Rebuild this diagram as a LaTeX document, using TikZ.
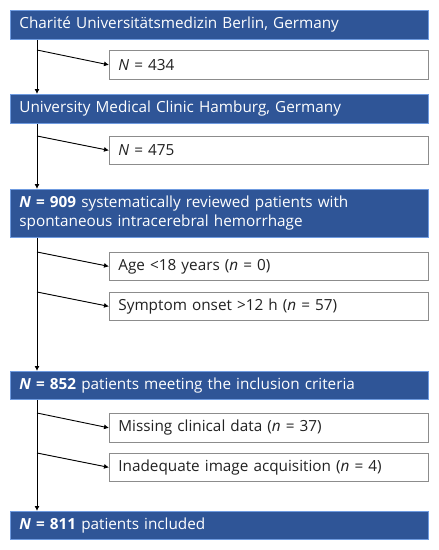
\documentclass[tikz,border=0pt]{standalone}
\usepackage{fontspec}
\setmainfont{Open Sans}
\usetikzlibrary{arrows.meta}
\definecolor{boxblue}{HTML}{2F5597}
\definecolor{boxedge}{HTML}{6F9BE0}
\definecolor{greyedge}{HTML}{8C8C8C}
\definecolor{txt}{HTML}{222222}
\begin{document}
\begin{tikzpicture}[x=1pt,y=-1pt,
  bluebox/.style={draw=boxedge, line width=0.8pt, fill=boxblue, text=white, anchor=north west,
    minimum width=418pt, text width=400pt, align=left, inner xsep=9pt, inner ysep=0pt,
    font=\fontsize{15.3}{19}\selectfont},
  whitebox/.style={draw=greyedge, line width=0.8pt, fill=white, text=txt, anchor=north west,
    minimum width=319pt, text width=301pt, align=left, inner xsep=9pt, inner ysep=0pt,
    font=\fontsize{15.3}{19}\selectfont},
  flow/.style={draw=black, line width=0.9pt, -{Latex[length=5pt,width=5pt]}}]
\useasboundingbox (0,0) rectangle (439,550);
\coordinate (spine) at (37,0);
\node[bluebox, minimum height=29pt] (b1) at (10,10) {Charité Universitätsmedizin Berlin, Germany};
\node[whitebox, minimum height=29pt] (w1) at (109,50) {\textit{N} = 434};
\node[bluebox, minimum height=29pt] (b2) at (10,94) {University Medical Clinic Hamburg, Germany};
\node[whitebox, minimum height=28pt] (w2) at (109,136) {\textit{N} = 475};
\node[bluebox, minimum height=48pt] (b3) at (10,189) {\textbf{\textit{N} = 909} systematically reviewed patients with\\spontaneous intracerebral hemorrhage};
\node[whitebox, minimum height=28pt] (w3) at (109,252) {Age <18 years (\textit{n} = 0)};
\node[whitebox, minimum height=28pt] (w4) at (109,292) {Symptom onset >12 h (\textit{n} = 57)};
\node[bluebox, minimum height=28pt] (b4) at (10,371) {\textbf{\textit{N} = 852} patients meeting the inclusion criteria};
\node[whitebox, minimum height=29pt] (w5) at (109,413) {Missing clinical data (\textit{n} = 37)};
\node[whitebox, minimum height=28pt] (w6) at (109,453) {Inadequate image acquisition (\textit{n} = 4)};
\node[bluebox, minimum height=28pt] (b5) at (10,511) {\textbf{\textit{N} = 811} patients included};
% spine arrows
\draw[flow] (spine |- b1.south) -- (spine |- b2.north);
\draw[flow] (spine |- b2.south) -- (spine |- b3.north);
\draw[flow] (spine |- b3.south) -- (spine |- b4.north);
\draw[flow] (spine |- b4.south) -- (spine |- b5.north);
% branches
\draw[flow] (spine |- w1.north) -- (w1.west);
\draw[flow] (spine |- w2.north) -- (w2.west);
\draw[flow] (spine |- w3.north) -- (w3.west);
\draw[flow] (spine |- w4.north) -- (w4.west);
\draw[flow] (spine |- w5.north) -- (w5.west);
\draw[flow] (spine |- w6.north) -- (w6.west);
\end{tikzpicture}
\end{document}
